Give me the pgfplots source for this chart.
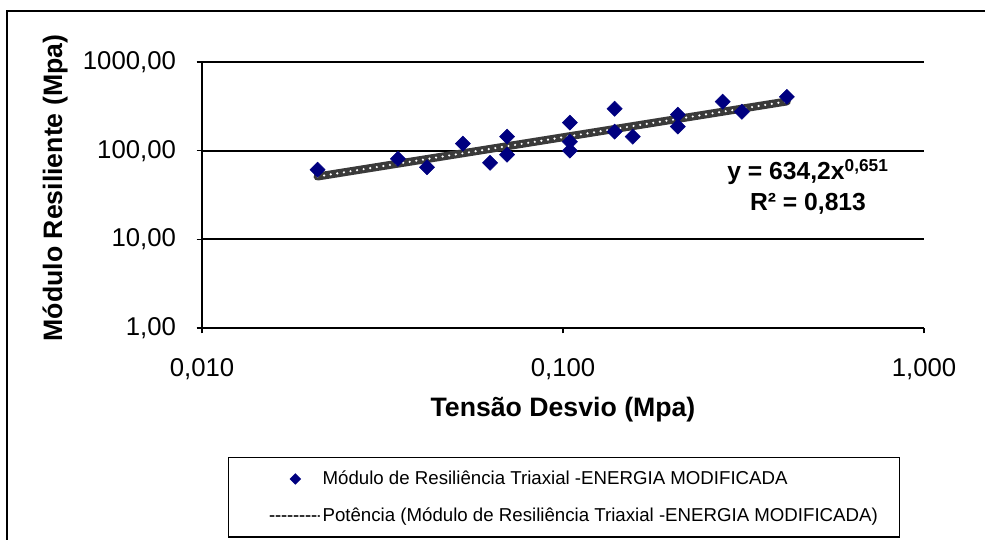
\documentclass[border=0pt]{standalone}
\usepackage{pgfplots}
\pgfplotsset{compat=1.18}
\usepackage{fontspec}
\setmainfont{Liberation Sans}
\definecolor{navyblue}{HTML}{000080}
\definecolor{trendgray}{HTML}{3A3A3A}
\begin{document}
\begin{tikzpicture}[x=0.75pt,y=0.75pt]
\useasboundingbox (0,0) rectangle (985,539);
\draw[line width=1.5pt,black] (7,-20) -- (7,528) -- (1010,528);
\begin{axis}[
  at={(151.5pt,158.25pt)}, anchor=south west,
  scale only axis, width=541.5pt, height=199.5pt,
  xmode=log, ymode=log,
  xmin=0.01, xmax=1, ymin=1, ymax=1000,
  xtick={0.01,0.1,1}, xticklabels={{0,010},{0,100},{1,000}},
  ytick={1,10,100,1000}, yticklabels={{1,00},{10,00},{100,00},{1000,00}},
  xminorticks=false, yminorticks=false,
  axis x line*=bottom, axis y line*=left,
  axis line style={line width=1.4pt, black},
  tick align=outside, major tick length=4pt,
  tick style={black, line width=0.9pt},
  ymajorgrids, major grid style={black, line width=1.4pt},
  tick label style={font=\fontsize{19.3}{20}\selectfont},
  xticklabel style={yshift=-15pt},
  yticklabel style={xshift=-12pt},
  xlabel={\bfseries Tensão Desvio (Mpa)},
  ylabel={\bfseries Módulo Resiliente (Mpa)},
  label style={font=\fontsize{20}{22}\selectfont\bfseries},
  xlabel style={at={(axis description cs:0.5,-0.305)}, anchor=center},
  ylabel style={at={(axis description cs:-0.2036,0.526)}, anchor=center},
  legend style={at={(axis description cs:0.036,-0.485)}, anchor=north west,
    draw=black, line width=1.1pt, font=\fontsize{14}{16}\selectfont,
    inner xsep=14pt, inner ysep=8pt, row sep=12pt},
  legend cell align=left,
  clip=false,
]
\addplot[only marks, mark=square*, mark size=4pt, mark options={rotate=45}, color=navyblue,
  legend image code/.code={\path (0pt,0pt) (37.5pt,0pt); \draw[navyblue, fill=navyblue] plot[only marks, mark=square*, mark size=2.5pt, mark options={rotate=45}] coordinates {(33pt,0pt)};}]
  coordinates {
  (0.0209,61) (0.0349,81) (0.042,65) (0.0528,120) (0.0628,73)
  (0.070,144) (0.070,90) (0.1045,207) (0.1045,126) (0.1045,100)
  (0.139,297) (0.139,164) (0.156,144) (0.208,255) (0.208,187)
  (0.277,357) (0.313,275) (0.417,405)
  };
\addlegendentry{Módulo de Resiliência Triaxial -ENERGIA MODIFICADA}
\addplot[trendgray, line width=6pt, line cap=round,
  legend image code/.code={\path (0pt,0pt); \draw[black!80, line width=0.8pt, dash pattern=on 3pt off 1.5pt] (14pt,0pt) -- (51pt,0pt);}]
  coordinates {(0.0209,51.1) (0.417,359)};
\addlegendentry{Potência (Módulo de Resiliência Triaxial -ENERGIA MODIFICADA)}
\addplot[white, line width=1.8pt, line cap=round, dash pattern=on 0pt off 5pt, forget plot]
  coordinates {(0.0209,51.1) (0.417,359)};
\end{axis}
\node[font=\fontsize{18.5}{23}\selectfont\bfseries, align=center] at (808,352)
  {y = 634,2x\textsuperscript{0,651}\\R² = 0,813};
\end{tikzpicture}
\end{document}
